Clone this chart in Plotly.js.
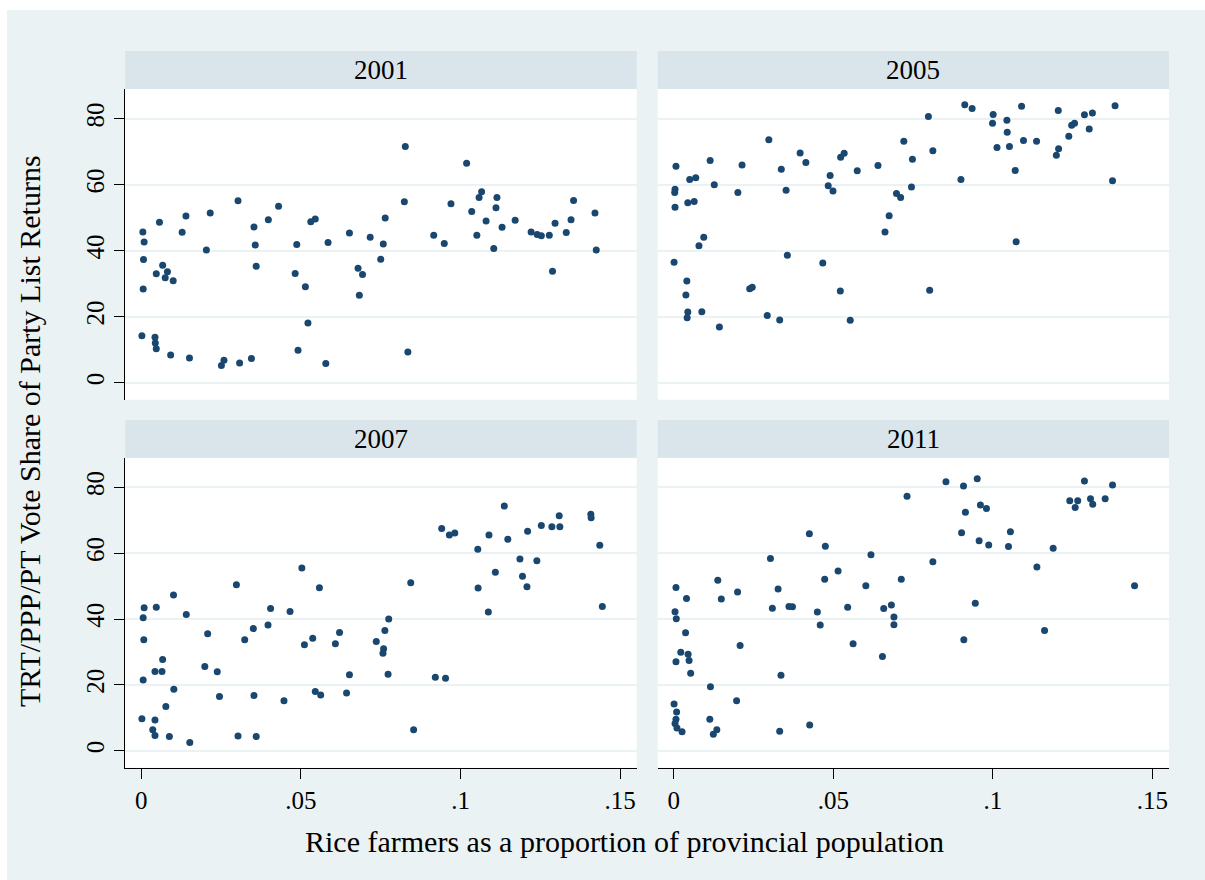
<!DOCTYPE html>
<html>
<head>
<meta charset="utf-8">
<script src="https://cdn.plot.ly/plotly-3.0.1.min.js"></script>
<style>html,body{margin:0;padding:0;background:#fff;}#chart{width:1205px;height:880px;}</style>
</head>
<body>
<div id="chart"></div>
<script>
// ---- Data ----
const panelYears = ["2001", "2005", "2007", "2011"];
const xTickVals = [0, 0.05, 0.1, 0.15];
const xTickText = ["0", ".05", ".1", ".15"];
const yTickVals = [0, 20, 40, 60, 80];

const x2001 = [0.0005,0.0009,0.0007,0.0006,0.0002,0.0057,0.0047,0.0067,0.0082,0.0075,0.0100,0.0043,0.0044,0.0047,0.0092,0.0128,0.0140,0.0151,0.0204,0.0216,0.0251,0.0259,0.0303,0.0308,0.0345,0.0353,0.0357,0.0360,0.0398,0.0430,0.0487,0.0482,0.0491,0.0514,0.0522,0.0531,0.0545,0.0585,0.0578,0.0652,0.0679,0.0693,0.0683,0.0717,0.0750,0.0758,0.0764,0.0827,0.0824,0.0835,0.0916,0.0949,0.0970,0.1019,0.1035,0.1058,0.1066,0.1051,0.1080,0.1104,0.1111,0.1114,0.1130,0.1171,0.1221,0.1240,0.1253,0.1278,0.1296,0.1288,0.1331,0.1346,0.1354,0.1421,0.1425];
const y2001 = [45.7,42.6,37.3,28.4,14.2,48.6,33.0,35.6,33.6,31.8,30.9,13.8,12.0,10.3,8.4,45.6,50.5,7.5,40.2,51.4,5.2,6.8,55.1,6.0,7.3,47.2,41.7,35.3,49.4,53.5,41.9,33.1,9.8,29.1,18.1,48.8,49.6,42.5,5.8,45.4,34.7,32.8,26.5,44.1,37.4,42.0,49.9,71.6,54.8,9.3,44.7,42.2,54.2,66.5,51.9,56.1,57.9,44.7,49.0,40.7,53.0,56.1,47.1,49.2,45.7,44.9,44.5,44.7,48.3,33.8,45.5,49.4,55.2,51.4,40.2];

const x2005 = [0.0007,0.0004,0.0003,0.0004,0.0001,0.0050,0.0069,0.0044,0.0064,0.0079,0.0094,0.0041,0.0038,0.0044,0.0042,0.0088,0.0143,0.0114,0.0127,0.0214,0.0201,0.0238,0.0246,0.0298,0.0293,0.0332,0.0337,0.0352,0.0356,0.0396,0.0414,0.0467,0.0490,0.0484,0.0499,0.0522,0.0523,0.0534,0.0553,0.0575,0.0640,0.0662,0.0675,0.0698,0.0711,0.0721,0.0745,0.0748,0.0798,0.0812,0.0802,0.0900,0.0912,0.0935,0.1001,0.0999,0.1013,0.1044,0.1045,0.1052,0.1070,0.1073,0.1090,0.1096,0.1137,0.1205,0.1206,0.1199,0.1238,0.1247,0.1256,0.1287,0.1312,0.1302,0.1383,0.1375];
const y2005 = [65.6,58.6,57.6,53.2,36.5,61.6,62.1,54.5,54.9,41.5,44.1,30.8,26.6,21.4,19.7,21.5,16.9,67.3,60.0,66.0,57.6,28.5,28.9,73.6,20.4,19.0,64.7,58.3,38.6,69.6,66.7,36.3,62.8,59.7,58.1,27.8,68.3,69.5,18.9,64.2,65.8,45.7,50.6,57.3,56.1,73.2,59.3,67.7,80.7,70.3,28.0,61.6,84.2,83.1,81.3,78.6,71.3,79.5,75.9,71.6,64.3,42.7,83.8,73.4,73.2,82.5,70.9,68.9,74.7,78.0,78.6,81.2,81.7,76.9,83.9,61.2];

const x2007 = [0.0009,0.0006,0.0008,0.0006,0.0002,0.0047,0.0067,0.0043,0.0065,0.0101,0.0102,0.0077,0.0043,0.0036,0.0043,0.0088,0.0152,0.0141,0.0208,0.0199,0.0238,0.0245,0.0298,0.0303,0.0324,0.0351,0.0353,0.0360,0.0397,0.0405,0.0447,0.0466,0.0503,0.0511,0.0537,0.0558,0.0545,0.0562,0.0608,0.0621,0.0652,0.0643,0.0736,0.0775,0.0763,0.0759,0.0757,0.0773,0.0844,0.0853,0.0921,0.0953,0.0941,0.0965,0.0982,0.1054,0.1055,0.1087,0.1089,0.1109,0.1137,0.1148,0.1186,0.1194,0.1208,0.1210,0.1239,0.1253,0.1286,0.1311,0.1309,0.1408,0.1409,0.1436,0.1444];
const y2007 = [43.4,40.4,33.7,21.5,9.7,43.6,27.7,24.1,24.1,47.3,18.7,13.4,9.3,6.4,4.6,4.3,2.5,41.4,35.5,25.6,24.0,16.5,50.4,4.5,33.7,37.1,16.8,4.3,38.2,43.2,15.2,42.3,55.5,32.2,34.2,49.5,18.0,16.9,32.5,35.9,23.1,17.5,33.2,40.0,36.5,31.0,29.6,23.2,51.0,6.4,22.3,22.0,67.5,65.5,66.1,61.2,49.4,42.1,65.5,54.2,74.3,64.2,58.2,53.0,49.8,66.7,57.7,68.4,68.0,68.0,71.4,71.8,70.8,62.4,43.8];

const x2011 = [0.0007,0.0040,0.0004,0.0008,0.0037,0.0022,0.0045,0.0007,0.0048,0.0053,0.0001,0.0009,0.0007,0.0004,0.0010,0.0026,0.0138,0.0149,0.0115,0.0113,0.0135,0.0124,0.0200,0.0208,0.0197,0.0303,0.0309,0.0327,0.0336,0.0332,0.0361,0.0372,0.0425,0.0426,0.0450,0.0459,0.0473,0.0475,0.0515,0.0545,0.0562,0.0602,0.0618,0.0654,0.0658,0.0682,0.0690,0.0690,0.0713,0.0731,0.0812,0.0853,0.0908,0.0951,0.0914,0.0961,0.0980,0.0902,0.0957,0.0987,0.1055,0.1049,0.0945,0.0909,0.1138,0.1189,0.1162,0.1241,0.1266,0.1258,0.1287,0.1306,0.1313,0.1352,0.1375,0.1444];
const y2011 = [49.6,46.2,42.2,40.1,35.8,29.9,29.3,27.0,27.4,23.5,14.2,11.8,9.6,8.3,6.9,5.8,51.8,46.1,19.4,9.6,6.4,5.0,48.2,32.0,15.2,58.4,43.3,49.1,22.9,5.9,43.8,43.7,65.9,7.8,42.1,38.2,52.1,62.1,54.6,43.6,32.5,50.1,59.5,28.6,43.2,44.3,40.6,38.3,52.1,77.3,57.4,81.7,80.4,82.6,72.4,74.6,73.6,66.2,63.8,62.5,66.5,62.0,44.8,33.7,55.8,61.5,36.5,75.9,75.9,73.9,81.9,76.5,74.9,76.5,80.7,50.1];

const xTitle = "Rice farmers as a proportion of provincial population";
const yTitle = "TRT/PPP/PT Vote Share of Party List Returns";

// ---- Layout geometry ----
const W = 1205, H = 880;
const FONT = "Liberation Serif, Times New Roman, serif";
const markerColor = "#1a476f";
const bgColor = "#eaf2f3";
const stripColor = "#d9e5ea";
const gridColor = "#eaf2f3";
const px = v => v / W;
const py = v => 1 - v / H;

const colL = [px(125.2), px(636.8)];
const colR = [px(657.7), px(1169)];
const rowT = [py(399.7), py(89)];
const rowB = [py(767.7), py(457.7)];
const stripT = [py(89), py(51)];
const stripB = [py(457.7), py(420)];

const xRange = [-0.00503, 0.1552];
const yRange = [-5.15, 89];

function mk(x, y, xa, ya) {
  return {type: "scatter", mode: "markers", x: x, y: y, xaxis: xa, yaxis: ya,
    marker: {color: markerColor, size: 7, line: {width: 0}}, hoverinfo: "x+y"};
}
const data = [
  mk(x2001, y2001, "x", "y"),
  mk(x2005, y2005, "x2", "y2"),
  mk(x2007, y2007, "x3", "y3"),
  mk(x2011, y2011, "x4", "y4")
];

function xAxis(domain, anchor, showTicks) {
  return {domain: domain, anchor: anchor, range: xRange, showgrid: false, zeroline: false,
    showline: showTicks, linecolor: "#000", linewidth: 1,
    ticks: showTicks ? "outside" : "", ticklen: 10, tickwidth: 1, tickcolor: "#000",
    tickvals: xTickVals, ticktext: xTickText, showticklabels: showTicks,
    tickfont: {family: FONT, size: 25, color: "#000"}, fixedrange: true};
}
function yAxis(domain, anchor, showTicks) {
  return {domain: domain, anchor: anchor, range: yRange, showgrid: true, gridcolor: gridColor, gridwidth: 2,
    zeroline: false, showline: showTicks, linecolor: "#000", linewidth: 1,
    ticks: showTicks ? "outside" : "", ticklen: 10, tickwidth: 1, tickcolor: "#000",
    tickvals: yTickVals, showticklabels: showTicks, tickangle: -90,
    tickfont: {family: FONT, size: 25, color: "#000"}, fixedrange: true};
}

const shapes = [
  // white page edge outside the graph region
  {type: "rect", xref: "paper", yref: "paper", x0: 0, x1: 1, y0: py(10), y1: 1, fillcolor: "#fff", line: {width: 0}, layer: "below"},
  {type: "rect", xref: "paper", yref: "paper", x0: 0, x1: px(7), y0: 0, y1: 1, fillcolor: "#fff", line: {width: 0}, layer: "below"},
  // strips
  {type: "rect", xref: "paper", yref: "paper", x0: colL[0], x1: colL[1], y0: stripT[0], y1: stripT[1], fillcolor: stripColor, line: {width: 0}, layer: "below"},
  {type: "rect", xref: "paper", yref: "paper", x0: colR[0], x1: colR[1], y0: stripT[0], y1: stripT[1], fillcolor: stripColor, line: {width: 0}, layer: "below"},
  {type: "rect", xref: "paper", yref: "paper", x0: colL[0], x1: colL[1], y0: stripB[0], y1: stripB[1], fillcolor: stripColor, line: {width: 0}, layer: "below"},
  {type: "rect", xref: "paper", yref: "paper", x0: colR[0], x1: colR[1], y0: stripB[0], y1: stripB[1], fillcolor: stripColor, line: {width: 0}, layer: "below"}
];

function stripLabel(text, col, strip) {
  return {text: text, xref: "paper", yref: "paper", x: (col[0] + col[1]) / 2, y: (strip[0] + strip[1]) / 2,
    xanchor: "center", yanchor: "middle", showarrow: false, font: {family: FONT, size: 27, color: "#000"}};
}
const annotations = [
  stripLabel(panelYears[0], colL, stripT),
  stripLabel(panelYears[1], colR, stripT),
  stripLabel(panelYears[2], colL, stripB),
  stripLabel(panelYears[3], colR, stripB),
  {text: xTitle, xref: "paper", yref: "paper", x: px(624), y: py(841), xanchor: "center", yanchor: "middle",
    showarrow: false, font: {family: FONT, size: 30, color: "#000"}},
  {text: yTitle, xref: "paper", yref: "paper", x: px(29), y: py(431), xanchor: "center", yanchor: "middle",
    textangle: -90, showarrow: false, font: {family: FONT, size: 30, color: "#000"}}
];

const layout = {
  width: W, height: H, margin: {l: 0, r: 0, t: 0, b: 0, pad: 0},
  paper_bgcolor: bgColor, plot_bgcolor: "#ffffff", showlegend: false,
  font: {family: FONT, color: "#000"},
  xaxis: xAxis(colL, "y", false),
  yaxis: yAxis(rowT, "x", true),
  xaxis2: xAxis(colR, "y2", false),
  yaxis2: yAxis(rowT, "x2", false),
  xaxis3: xAxis(colL, "y3", true),
  yaxis3: yAxis(rowB, "x3", true),
  xaxis4: xAxis(colR, "y4", true),
  yaxis4: yAxis(rowB, "x4", false),
  shapes: shapes,
  annotations: annotations
};

Plotly.newPlot("chart", data, layout, {displayModeBar: false, staticPlot: true});
</script>
</body>
</html>
